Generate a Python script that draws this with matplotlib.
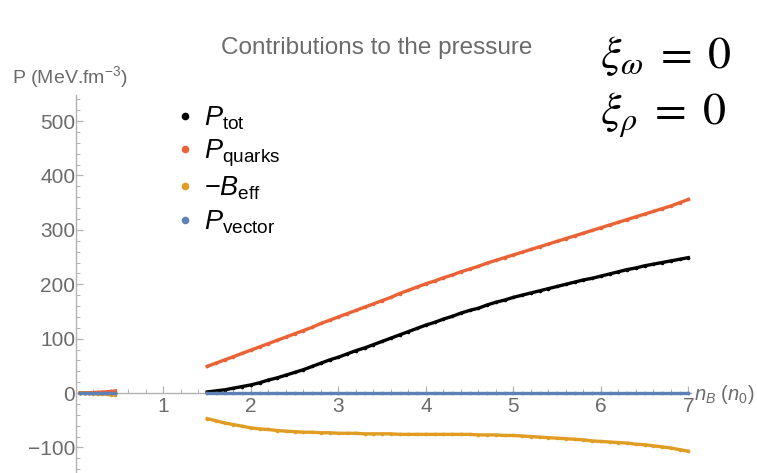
import matplotlib

matplotlib.use("Agg")
import matplotlib.pyplot as plt
import numpy as np
from matplotlib.lines import Line2D
from matplotlib.ticker import MultipleLocator

plt.rcParams["font.family"] = ["Liberation Sans", "DejaVu Sans"]
plt.rcParams["mathtext.fontset"] = "custom"
plt.rcParams["mathtext.rm"] = "Liberation Sans"
plt.rcParams["mathtext.it"] = "Liberation Sans:italic"

TOT_COLOR = "#000000"
QUARK_COLOR = "#EB6235"
BAG_COLOR = "#E19C24"
VEC_COLOR = "#5E81B5"
AXIS_GREY = "#b3b3b3"
TEXT_GREY = "#6b6b6b"

# hadronic branch, low density
n_low = [0.05, 0.10, 0.15, 0.20, 0.25, 0.30, 0.35, 0.40, 0.45]
p_tot_low = [0, 0, 0, 0, 0, 0, 0, 0, 0]
p_quarks_low = [0.2, 0.4, 0.7, 1.0, 1.4, 1.8, 2.3, 2.9, 4.0]
b_eff_low = [-0.2, -0.4, -0.7, -1.0, -1.4, -1.8, -2.3, -2.9, -4.0]
p_vector_low = [0, 0, 0, 0, 0, 0, 0, 0, 0]

# quark branch, n_B in units of n_0
n_high = [1.5, 1.6, 1.7, 1.8, 1.9, 2.0, 2.1, 2.2, 2.3, 2.4,
          2.5, 2.6, 2.7, 2.8, 2.9, 3.0, 3.1, 3.2, 3.3, 3.4,
          3.5, 3.6, 3.7, 3.8, 3.9, 4.0, 4.1, 4.2, 4.3, 4.4,
          4.5, 4.6, 4.7, 4.8, 4.9, 5.0, 5.1, 5.2, 5.3, 5.4,
          5.5, 5.6, 5.7, 5.8, 5.9, 6.0, 6.1, 6.2, 6.3, 6.4,
          6.5, 6.6, 6.7, 6.8, 6.9, 7.0]
p_tot = [2, 4, 6, 9, 12, 15, 19, 24, 28, 33,
         38, 43, 49, 55, 61, 66, 72, 78, 83, 89,
         95, 101, 107, 113, 119, 125, 130, 136, 141, 147,
         152, 156, 162, 167, 171, 176, 180, 184, 188, 192,
         196, 200, 204, 208, 211, 215, 219, 223, 227, 230,
         234, 237, 240, 243, 246, 249]
p_quarks = [49, 55, 61, 67, 73, 79, 85, 91, 97, 103,
            109, 115, 121, 128, 134, 140, 146, 152, 158, 164,
            170, 176, 183, 189, 195, 201, 206, 212, 217, 223,
            228, 233, 239, 244, 249, 254, 259, 264, 269, 274,
            279, 284, 289, 294, 299, 304, 309, 314, 319, 324,
            329, 334, 339, 344, 350, 356]
b_eff = [-47, -51, -55, -58, -61, -64, -66, -67, -69, -70,
         -71, -72, -72, -73, -73, -74, -74, -74, -75, -75,
         -75, -75, -76, -76, -76, -76, -76, -76, -76, -76,
         -76, -77, -77, -77, -78, -78, -79, -80, -81, -82,
         -83, -84, -85, -86, -88, -89, -90, -91, -92, -94,
         -95, -97, -99, -101, -104, -107]
p_vector = [0] * len(n_high)

x_ticks = [1, 2, 3, 4, 5, 6, 7]
y_ticks = [-100, 0, 100, 200, 300, 400, 500]


def branches(low, high):
    # nan breaks the line across the gap between the two branches
    return np.concatenate([low, [np.nan], high])


fig = plt.figure(figsize=(7.57, 4.73), dpi=100)
ax = fig.add_axes([76 / 757, 0.0, (691 - 76) / 757, (473 - 95) / 473])

n_all = branches(n_low, n_high)
series = [
    (p_tot_low, p_tot, TOT_COLOR),
    (p_quarks_low, p_quarks, QUARK_COLOR),
    (b_eff_low, b_eff, BAG_COLOR),
    (p_vector_low, p_vector, VEC_COLOR),
]
for low, high, color in series:
    ax.plot(n_all, branches(low, high), "o-", color=color, lw=2.4, ms=2.6,
            mew=0, clip_on=False, zorder=3)

ax.set_xlim(0, 7.03)
ax.set_ylim(-147, 548)

for side in ("top", "right"):
    ax.spines[side].set_visible(False)
ax.spines["bottom"].set_position(("data", 0))
for side in ("left", "bottom"):
    ax.spines[side].set_color(AXIS_GREY)
    ax.spines[side].set_linewidth(1.0)

ax.set_xticks(x_ticks)
ax.set_yticks(y_ticks)
ax.xaxis.set_minor_locator(MultipleLocator(0.2))
ax.yaxis.set_minor_locator(MultipleLocator(20))
ax.tick_params(which="both", direction="in", color=AXIS_GREY, labelcolor=TEXT_GREY,
               labelsize=15)
ax.tick_params(which="major", length=5, width=0.9)
ax.tick_params(which="minor", length=3, width=0.7)
ax.tick_params(axis="x", pad=3)
ax.tick_params(axis="y", pad=0.5)
ax.patch.set_visible(False)

ax.text(7.06, -2, r"$n_B\ (n_0)$", color=TEXT_GREY, fontsize=14.5,
        ha="left", va="center")
fig.text(12 / 757, 1 - 77 / 473, r"P (MeV.fm$^{-3}$)", color=TEXT_GREY,
         fontsize=14, ha="left", va="center")
fig.text(377 / 757, 1 - 48 / 473, "Contributions to the pressure",
         color=TEXT_GREY, fontsize=17.5, ha="center", va="center")

for baseline, label in zip([68, 125], [r"$\xi_\omega\;=\;0$", r"$\xi_\rho\;=\;0$"]):
    fig.text(600 / 757, 1 - baseline / 473, label, fontsize=33,
             ha="left", va="baseline", math_fontfamily="stix")

handles = [Line2D([], [], ls="none", marker="o", ms=5.5, mew=0, color=c)
           for c in (TOT_COLOR, QUARK_COLOR, BAG_COLOR, VEC_COLOR)]
labels = [r"$P_{\mathrm{tot}}$", r"$P_{\mathrm{quarks}}$",
          r"$-B_{\mathrm{eff}}$", r"$P_{\mathrm{vector}}$"]
fig.legend(handles, labels, loc="upper left", bbox_to_anchor=(178 / 757, 1 - 104 / 473),
           frameon=False, fontsize=19.5, handlelength=0.5, handletextpad=0.45,
           labelspacing=0.22, borderaxespad=0, borderpad=0)

fig.savefig("out.png", dpi=100)
